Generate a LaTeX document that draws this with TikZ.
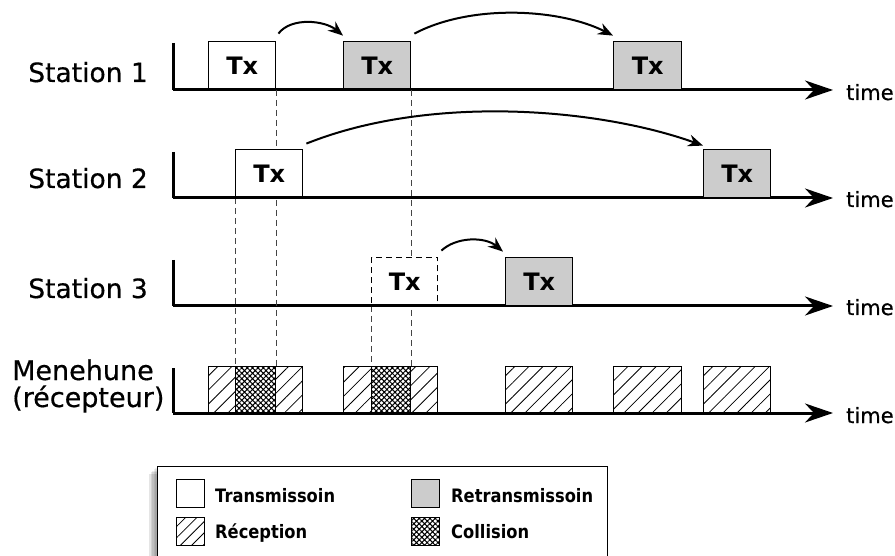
\documentclass[tikz,border=0pt]{standalone}
\usepackage{fontspec}
\usepackage{graphicx}
\setmainfont{DejaVu Sans}
\newfontfamily\labelfont[FakeBold=0.5]{DejaVu Sans}
\usetikzlibrary{arrows.meta,patterns.meta}

\definecolor{retx}{HTML}{CCCCCC}
\definecolor{guide}{HTML}{444444}

\newcommand{\legendword}[1]{\scalebox{0.88}[1]{#1}}

\tikzset{
  axisline/.style={line width=3pt},
  timeaxis/.style={line width=3pt,-{Stealth[length=28pt,width=19pt,inset=9pt]}},
  timelabel/.style={anchor=base west,font=\labelfont\fontsize{21}{21}\selectfont,inner sep=0pt},
  stationlabel/.style={anchor=base east,font=\labelfont\fontsize{26.5}{26.5}\selectfont,inner sep=0pt},
  rxlabel/.style={anchor=base west,font=\labelfont\fontsize{27}{27}\selectfont,inner sep=0pt},
  txbox/.style={draw,line width=1.4pt,fill=white,minimum width=67pt,minimum height=48pt,
    inner sep=0pt,anchor=south west,font=\bfseries\fontsize{24}{24}\selectfont},
  retxbox/.style={txbox,fill=retx},
  lostbox/.style={txbox,dashed,dash pattern=on 6pt off 4pt},
  rxbox/.style={draw,line width=1.4pt,inner sep=0pt,anchor=south west,minimum height=46pt,
    fill=white,postaction={pattern={Lines[angle=45,distance=10pt,line width=0.8pt]}}},
  collbox/.style={draw,line width=1.4pt,inner sep=0pt,anchor=south west,minimum height=46pt,
    fill=white,postaction={pattern={Hatch[angle=45,distance=3.8pt,line width=1.0pt]}}},
  guideline/.style={guide,line width=0.9pt,dash pattern=on 6pt off 4pt},
  backoff/.style={line width=2pt,-{Stealth[length=15pt,width=12pt,inset=5pt]}},
  legendtext/.style={anchor=base west,font=\bfseries\fontsize{18.5}{18.5}\selectfont,inner sep=0pt},
  legendkey/.style={draw,line width=1.2pt,minimum width=28pt,minimum height=28pt,inner sep=0pt,anchor=north west},
}

\begin{document}
\begin{tikzpicture}[x=1pt,y=-1pt]
\clip (0,0) rectangle (895,556);
\fill[white] (0,0) rectangle (895,556);

% station and receiver labels
\node[stationlabel] (l1) at (148,82) {Station 1};
\node[stationlabel] (l2) at (148,188) {Station 2};
\node[stationlabel] (l3) at (148,298) {Station 3};
\node[rxlabel] (l4) at (12,380) {Menehune};
\node[rxlabel] (l5) at (12,407) {(récepteur)};

% time axes
\coordinate (o1) at (173,90);  \coordinate (t1) at (173,43);  \coordinate (e1) at (833,90);
\coordinate (o2) at (173,198); \coordinate (t2) at (173,152); \coordinate (e2) at (833,198);
\coordinate (o3) at (173,306); \coordinate (t3) at (173,260); \coordinate (e3) at (833,306);
\coordinate (o4) at (173,413); \coordinate (t4) at (173,368); \coordinate (e4) at (833,413);
\foreach \i in {1,2,3,4}{
  \draw[axisline] (t\i) -- (o\i);
  \draw[timeaxis] (o\i) -- (e\i);
}
\node[timelabel] (tm1) at (846,100) {time};
\node[timelabel] (tm2) at (846,207) {time};
\node[timelabel] (tm3) at (846,315) {time};
\node[timelabel] (tm4) at (846,423) {time};

% receiver side: receptions and collisions
\node[rxbox,minimum width=94pt] (r1) at (208,413) {};
\node[collbox,minimum width=40pt] (c1) at (235,413) {};
\node[rxbox,minimum width=94pt] (r2) at (343,413) {};
\node[collbox,minimum width=39pt] (c2) at (371,413) {};
\node[rxbox,minimum width=67pt] (r3) at (505,413) {};
\node[rxbox,minimum width=68pt] (r4) at (613,413) {};
\node[rxbox,minimum width=67pt] (r5) at (703,413) {};

% transmissions (placed before the guides so the guides can reference them)
\path
  node[txbox,minimum width=67pt] (s1a) at (208,90) {Tx}
  node[retxbox,minimum width=67pt] (s1b) at (343,90) {Tx}
  node[retxbox,minimum width=68pt] (s1c) at (613,90) {Tx}
  node[txbox,minimum width=67pt] (s2a) at (235,198) {Tx}
  node[retxbox,minimum width=67pt] (s2b) at (703,198) {Tx}
  node[lostbox,minimum width=66pt] (s3a) at (371,306) {Tx}
  node[retxbox,minimum width=67pt] (s3b) at (505,306) {Tx};

% dashed guides from the transmissions down to the collisions
\draw[guideline] (s1a.south east) -- (c1.north east);
\draw[guideline] (s2a.south west) -- (c1.north west);
\draw[guideline] (s3a.south west) -- (c2.north west);
\draw[guideline] (s1b.south east) -- (c2.north east);

% redraw the boxes on top of the guides
\node[txbox,minimum width=67pt] at (208,90) {Tx};
\node[retxbox,minimum width=67pt] at (343,90) {Tx};
\node[txbox,minimum width=67pt] at (235,198) {Tx};
\node[lostbox,minimum width=66pt] at (371,306) {Tx};
\draw[axisline] (s1a.south west) -- (s1a.south east);
\draw[axisline] (s1b.south west) -- (s1b.south east);
\draw[axisline] (s2a.south west) -- (s2a.south east);
\draw[axisline] (s3a.south west) -- (s3a.south east);

% back-off arrows
\draw[backoff] ([shift={(2,-7)}]s1a.north east) .. controls +(13,-17) and +(-18,-15) .. ([shift={(0,-5)}]s1b.north west);
\draw[backoff] ([shift={(3,-7)}]s1b.north east) .. controls +(57,-30) and +(-53,-27) .. ([shift={(0,-5)}]s1c.north west);
\draw[backoff] ([shift={(3,-5)}]s2a.north east) .. controls +(125,-50) and +(-103,-37) .. ([shift={(0,-3)}]s2b.north west);
\draw[backoff] ([shift={(3,-6)}]s3a.north east) .. controls +(15,-14) and +(-18,-15) .. ([shift={(-2,-5)}]s3b.north west);

% legend with a soft shadow
\foreach \k/\o in {1/0.07,2/0.07,3/0.08,4/0.09,5/0.10}{
  \fill[black,opacity=\o] (157-\k*1.6,466+\k*1.6) rectangle (607-\k*1.6,570);
}
\node[draw,line width=1.2pt,fill=white,anchor=north west,minimum width=450pt,minimum height=110pt,inner sep=0pt] (legend) at (157,466) {};
\node[legendkey,fill=white] (k1) at (176,479) {};
\node[legendtext] (k1t) at (215,502) {\legendword{Transmissoin}};
\node[legendkey,fill=retx] (k2) at (411,479) {};
\node[legendtext] (k2t) at (451,502) {\legendword{Retransmissoin}};
\node[legendkey,fill=white,postaction={pattern={Lines[angle=45,distance=8pt,line width=0.8pt]}}] (k3) at (176,517) {};
\node[legendtext] (k3t) at (215,538) {\legendword{Réception}};
\node[legendkey,fill=white,postaction={pattern={Hatch[angle=45,distance=3.8pt,line width=1.0pt]}}] (k4) at (411,517) {};
\node[legendtext] (k4t) at (451,538) {\legendword{Collision}};
\end{tikzpicture}
\end{document}
